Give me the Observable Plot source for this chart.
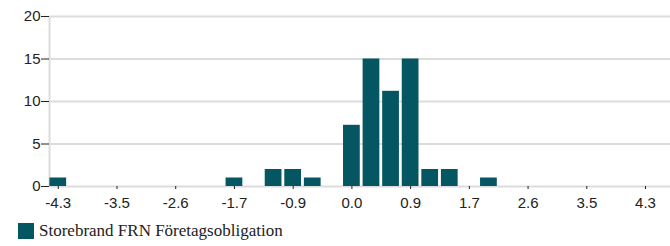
<!DOCTYPE html>
<html>
<head>
<meta charset="utf-8">
<script src="https://cdn.jsdelivr.net/npm/d3@7"></script>
<script src="https://cdn.jsdelivr.net/npm/@observablehq/plot@0.6"></script>
<style>
  html, body { margin: 0; padding: 0; background: #fff; }
  #chart svg { display: block; }
  .legend { display: flex; align-items: center; height: 30px; padding-left: 18px; font-family: "Liberation Serif", "DejaVu Serif", serif; font-size: 17px; color: #222; }
  .legend .sw { width: 16px; height: 16px; margin-right: 5px; display: inline-block; }
</style>
</head>
<body>
<div id="chart"></div>
<div class="legend"><span class="sw" id="sw"></span><span id="lbl"></span></div>
<script>
const binCenters = [-4.35, -1.74, -1.16, -0.87, -0.58, 0, 0.29, 0.58, 0.87, 1.16, 1.45, 2.03];
const counts = [1, 1, 2, 2, 1, 7.2, 15, 11.2, 15, 2, 2, 1];
const xTicks = [-4.35, -3.48, -2.61, -1.74, -0.87, 0, 0.87, 1.74, 2.61, 3.48, 4.35];
const xTickLabels = ["-4.3", "-3.5", "-2.6", "-1.7", "-0.9", "0.0", "0.9", "1.7", "2.6", "3.5", "4.3"];
const yTicks = [0, 5, 10, 15, 20];
const seriesName = "Storebrand FRN Företagsobligation";

const color = "#035662";
const xDomain = [-4.48, 4.72];
const halfBar = 0.124;

const data = binCenters.map((x, i) => ({x, y: counts[i]}));

const chart = Plot.plot({
  width: 670,
  height: 216,
  marginLeft: 49,
  marginRight: 0,
  marginTop: 16,
  marginBottom: 30,
  style: {fontFamily: "'Liberation Sans', Arial, sans-serif", fontSize: "15px", color: "#222", background: "#fff"},
  x: {type: "linear", domain: xDomain},
  y: {domain: [0, 20]},
  marks: [
    Plot.ruleY(yTicks, {stroke: "#dcdcdc", strokeWidth: 2}),
    Plot.ruleX([xDomain[0]], {y1: 0, y2: 20, stroke: "#dcdcdc", strokeWidth: 2}),
    Plot.rectY(data, {x1: d => d.x - halfBar, x2: d => d.x + halfBar, y1: 0, y2: "y", fill: color}),
    Plot.axisY({ticks: yTicks, tickSize: 8, tickPadding: 1, fontSize: 15, label: null, stroke: "#222"}),
    Plot.axisX({ticks: xTicks, tickFormat: (d, i) => xTickLabels[i], tickSize: 3, tickPadding: 8, fontSize: 15, label: null, stroke: "#222"})
  ]
});
document.getElementById("chart").appendChild(chart);
document.getElementById("sw").style.background = color;
document.getElementById("lbl").textContent = seriesName;
</script>
</body>
</html>
